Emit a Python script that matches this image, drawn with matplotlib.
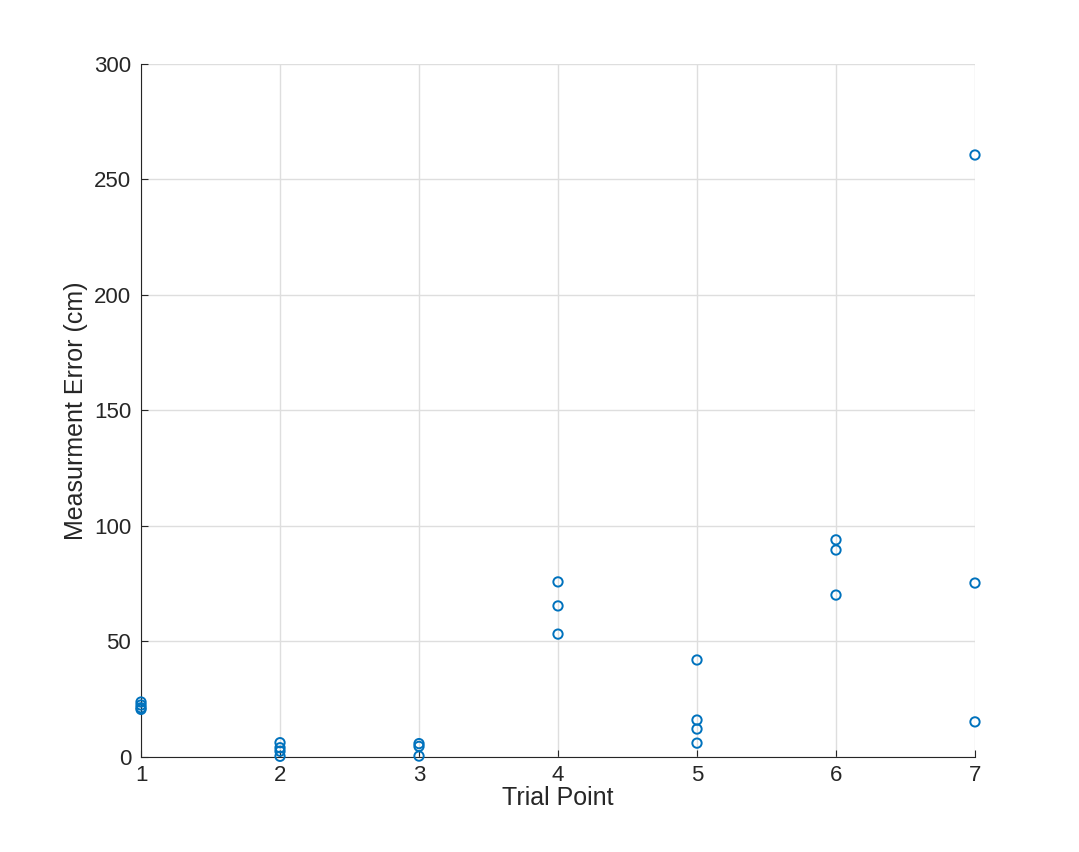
import matplotlib
matplotlib.use("Agg")
import matplotlib.pyplot as plt

plt.rcParams['font.family'] = ['Liberation Sans', 'DejaVu Sans']

trial_x = [1, 1, 1, 1, 2, 2, 2, 2, 3, 3, 3, 4, 4, 4, 5, 5, 5, 5, 6, 6, 6, 7, 7, 7]
error_cm = [23.8, 22.5, 21.3, 20.6, 6.2, 4.0, 2.5, 0.3, 5.8, 4.6, 0.4,
            75.8, 65.4, 53.2, 42.0, 16.0, 12.1, 6.0, 94.0, 89.6, 70.1,
            260.6, 75.3, 15.2]

fig = plt.figure(figsize=(10.79, 8.52), dpi=100)
ax = fig.add_axes([0.1307, 0.1115, 0.7729, 0.8134])
ax.scatter(trial_x, error_cm, s=45, facecolors='none', edgecolors='#0072BD',
           linewidths=1.4, zorder=3, clip_on=False)
ax.set_xlim(1, 7)
ax.set_ylim(0, 300)
ax.set_xticks(range(1, 8))
ax.set_yticks(range(0, 301, 50))
ax.grid(True, color='#dedede', linewidth=1)
ax.set_axisbelow(True)
for s in ['top', 'right']:
    ax.spines[s].set_visible(False)
for s in ['left', 'bottom']:
    ax.spines[s].set_color('#262626')
ax.tick_params(direction='in', length=5, colors='#262626', labelsize=16)
ax.tick_params(axis='y', pad=7)
ax.tick_params(axis='x', pad=6)
ax.set_xlabel('Trial Point', fontsize=18, color='#262626', labelpad=0)
ax.set_ylabel('Measurment Error (cm)', fontsize=18, color='#262626', labelpad=4)
fig.savefig('out.png', dpi=100)
